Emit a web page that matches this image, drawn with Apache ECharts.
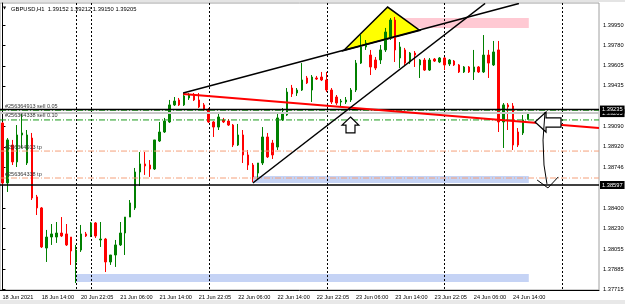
<!DOCTYPE html>
<html lang="en">
<head>
<meta charset="UTF-8">
<script src="https://cdn.jsdelivr.net/npm/echarts@6/dist/echarts.min.js"></script>
<title>GBPUSD,H1</title>
<style>html,body{margin:0;padding:0;background:#fff;}</style>
</head>
<body>
<div id="main" style="width:625px;height:304px;"></div>
<script>
// slots on the time axis (bars + empty chart shift on the right)
var barCount = 122;
var labelEvery = 8;
var tickLabels = ['18 Jun 2021', '18 Jun 14:00', '20 Jun 22:05', '21 Jun 06:00', '21 Jun 14:00', '21 Jun 22:05',
    '22 Jun 06:00', '22 Jun 14:00', '22 Jun 22:05', '23 Jun 06:00', '23 Jun 14:00', '23 Jun 22:05',
    '24 Jun 06:00', '24 Jun 14:00'];

// H1 bars
var openP = [1.39121, 1.38614, 1.38935, 1.38792, 1.39020, 1.38783, 1.38994, 1.38496, 1.38403, 1.38064,
    1.38157, 1.38157, 1.38191, 1.38183, 1.38157, 1.37946, 1.38047, 1.38183, 1.38174, 1.38276,
    1.38132, 1.38140, 1.37946, 1.38005, 1.38090, 1.38191, 1.38326, 1.38403, 1.38707, 1.38775,
    1.38766, 1.38732, 1.38969, 1.39045, 1.39130, 1.39274, 1.39316, 1.39274, 1.39333, 1.39358,
    1.39316, 1.39274, 1.39231, 1.39130, 1.39087, 1.39147, 1.39138, 1.39104, 1.38935, 1.39020,
    1.38851, 1.38766, 1.38698, 1.38783, 1.39003, 1.38952, 1.38918, 1.39147, 1.39189, 1.39417,
    1.39375, 1.39400, 1.39502, 1.39400, 1.39502, 1.39510, 1.39485, 1.39400, 1.39341, 1.39299,
    1.39299, 1.39316, 1.39400, 1.39628, 1.39764, 1.39696, 1.39654, 1.39654, 1.39739, 1.39849,
    1.39992, 1.39671, 1.39739, 1.39637, 1.39713, 1.39612, 1.39654, 1.39569, 1.39662, 1.39637,
    1.39671, 1.39620, 1.39645, 1.39612, 1.39553, 1.39595, 1.39553, 1.39595, 1.39553, 1.39696,
    1.39612, 1.39739, 1.39130, 1.39274, 1.39265, 1.39045, 1.39037, 1.39152];
var highP = [1.39130, 1.38994, 1.38978, 1.39104, 1.39206, 1.39062, 1.39037, 1.38513, 1.38411, 1.38217,
    1.38267, 1.38284, 1.38326, 1.38267, 1.38157, 1.38090, 1.38259, 1.38200, 1.38284, 1.38284,
    1.38284, 1.38149, 1.38005, 1.38132, 1.38284, 1.38326, 1.38470, 1.38741, 1.38876, 1.38876,
    1.38808, 1.38978, 1.39130, 1.39164, 1.39316, 1.39341, 1.39333, 1.39375, 1.39375, 1.39375,
    1.39375, 1.39290, 1.39248, 1.39138, 1.39198, 1.39164, 1.39155, 1.39113, 1.39113, 1.39062,
    1.38893, 1.38783, 1.38783, 1.39087, 1.39037, 1.38978, 1.39206, 1.39248, 1.39417, 1.39443,
    1.39417, 1.39628, 1.39519, 1.39527, 1.39519, 1.39553, 1.39553, 1.39417, 1.39358, 1.39324,
    1.39341, 1.39417, 1.39654, 1.39865, 1.39823, 1.39739, 1.39679, 1.39781, 1.39925, 1.40009,
    1.40018, 1.39806, 1.39756, 1.39722, 1.39730, 1.39662, 1.39671, 1.39671, 1.39671, 1.39679,
    1.39679, 1.39662, 1.39654, 1.39620, 1.39603, 1.39603, 1.39739, 1.39603, 1.39865, 1.39739,
    1.39815, 1.39815, 1.39290, 1.39290, 1.39290, 1.39079, 1.39189, 1.39212];
var lowP = [1.38597, 1.38538, 1.38766, 1.38749, 1.38910, 1.38766, 1.38470, 1.38343, 1.38064, 1.37946,
    1.38090, 1.38107, 1.38157, 1.38081, 1.37921, 1.37768, 1.38031, 1.38157, 1.38157, 1.38149,
    1.38073, 1.37861, 1.37921, 1.37904, 1.38081, 1.38005, 1.38326, 1.38386, 1.38589, 1.38682,
    1.38665, 1.38724, 1.38961, 1.39037, 1.39121, 1.39265, 1.39265, 1.39265, 1.39316, 1.39307,
    1.39248, 1.39223, 1.39121, 1.39003, 1.39062, 1.39121, 1.39096, 1.38918, 1.38927, 1.38783,
    1.38724, 1.38622, 1.38639, 1.38766, 1.38825, 1.38817, 1.38893, 1.39138, 1.39181, 1.39341,
    1.39350, 1.39392, 1.39451, 1.39299, 1.39485, 1.39476, 1.39383, 1.39282, 1.39274, 1.39265,
    1.39282, 1.39299, 1.39383, 1.39620, 1.39739, 1.39527, 1.39569, 1.39620, 1.39722, 1.39823,
    1.39637, 1.39586, 1.39612, 1.39620, 1.39595, 1.39502, 1.39561, 1.39561, 1.39637, 1.39628,
    1.39569, 1.39603, 1.39603, 1.39544, 1.39544, 1.39544, 1.39485, 1.39544, 1.39544, 1.39502,
    1.39603, 1.39045, 1.38910, 1.39062, 1.38893, 1.38918, 1.39020, 1.39150];
var closeP = [1.38614, 1.38978, 1.38792, 1.39020, 1.39037, 1.39020, 1.38487, 1.38403, 1.38073, 1.38157,
    1.38183, 1.38191, 1.38166, 1.38090, 1.38039, 1.38047, 1.38183, 1.38166, 1.38276, 1.38166,
    1.38140, 1.37946, 1.38005, 1.38090, 1.38191, 1.38326, 1.38445, 1.38707, 1.38775, 1.38758,
    1.38732, 1.38978, 1.39045, 1.39138, 1.39274, 1.39307, 1.39274, 1.39350, 1.39358, 1.39316,
    1.39257, 1.39231, 1.39130, 1.39087, 1.39172, 1.39130, 1.39104, 1.38935, 1.39020, 1.38851,
    1.38766, 1.38665, 1.38783, 1.39003, 1.38834, 1.38851, 1.39164, 1.39206, 1.39383, 1.39367,
    1.39400, 1.39485, 1.39460, 1.39510, 1.39493, 1.39485, 1.39400, 1.39299, 1.39290, 1.39307,
    1.39316, 1.39400, 1.39628, 1.39764, 1.39798, 1.39595, 1.39586, 1.39739, 1.39891, 1.39992,
    1.39739, 1.39764, 1.39628, 1.39713, 1.39696, 1.39654, 1.39569, 1.39654, 1.39645, 1.39671,
    1.39612, 1.39654, 1.39612, 1.39553, 1.39595, 1.39553, 1.39595, 1.39553, 1.39696, 1.39628,
    1.39722, 1.39130, 1.39274, 1.39257, 1.38935, 1.38935, 1.39147, 1.39205];

// price scale
var priceMin = 1.37709;
var priceMax = 1.40136;
var priceTicks = [1.37715, 1.37885, 1.38055, 1.38230, 1.38400, 1.38746, 1.38920, 1.39090,
    1.39435, 1.39605, 1.39780, 1.39950];

// day separators (bar index)
var separators = [15, 18, 42, 66, 90, 114];

// chart objects, in [bar index, price]
var zones = [
    {from: 79.7, to: 107.2, top: 1.40009, bottom: 1.39925, color: '#ffc9d3'},
    {from: 51.0, to: 107.2, top: 1.38673, bottom: 1.38614, color: '#c5d3f5'},
    {from: 15.0, to: 107.2, top: 1.37844, bottom: 1.37777, color: '#c5d3f5'}
];
var triangle = [[69.5, 1.39734], [78.45, 1.40102], [85.0, 1.39904]];
var trendLines = [
    {color: '#ff0000', width: 2, pts: [[36.8, 1.39367], [121.5, 1.39079]]},
    {color: '#000', width: 1.5, pts: [[36.8, 1.39375], [105.2, 1.40132]]},
    {color: '#000', width: 1.5, pts: [[51.0, 1.38614], [98.3, 1.40132]]}
];
var upArrow = [[70.89, 1.39172], [72.58, 1.39104], [71.80, 1.39104], [71.80, 1.39037],
    [69.97, 1.39037], [69.97, 1.39104], [69.16, 1.39104]];
var leftArrow = [[108.47, 1.39130], [110.71, 1.39214], [110.71, 1.39164], [113.76, 1.39164],
    [113.76, 1.39087], [110.71, 1.39087], [110.71, 1.39045]];
var drawnDrop = [[110.5, 1.39214], [110.1, 1.38978], [110.3, 1.38766], [110.9, 1.38606]];
var drawnHead = [[108.9, 1.38639], [111.1, 1.38572], [113.2, 1.38665]];

// horizontal levels
var priceLevels = [
    {price: 1.39205, kind: 'bid'},
    {price: 1.39229, kind: 'order', text: '#256364913 sell 0.05'},
    {price: 1.39147, kind: 'order', text: '#256364338 sell 0.10'},
    {price: 1.38884, kind: 'tp', text: '#256364913 tp'},
    {price: 1.38656, kind: 'tp', text: '#256364338 tp'},
    {price: 1.39235, kind: 'level'},
    {price: 1.38597, kind: 'level'}
];
var levelStyles = {
    bid: {stroke: '#c8c8c8', lineWidth: 2},
    level: {stroke: '#000', lineWidth: 1.5},
    order: {stroke: '#1a9a1a', lineWidth: 1, lineDash: [6, 2, 1, 2]},
    tp: {stroke: '#f5a07a', lineWidth: 1, lineDash: [6, 2, 1, 2]}
};

var candles = openP.map(function (o, i) {
    return [o, closeP[i], lowP[i], highP[i]];
});
var cats = [];
for (var i = 0; i < barCount; i++) cats.push(String(i));

function coords(api, list) {
    return list.map(function (p) { return api.coord(p); });
}

function drawBack(params, api) {
    var kids = [];
    zones.forEach(function (z) {
        var a = api.coord([z.from, z.top]);
        var b = api.coord([z.to, z.bottom]);
        kids.push({type: 'rect', shape: {x: a[0], y: a[1], width: b[0] - a[0], height: b[1] - a[1]},
            style: {fill: z.color}});
    });
    separators.forEach(function (s) {
        var a = api.coord([s, priceMax]);
        var b = api.coord([s, priceMin]);
        var x = Math.round(a[0]) + 0.5;
        kids.push({type: 'line', shape: {x1: x, y1: a[1], x2: x, y2: b[1]},
            style: {stroke: '#000', lineWidth: 1, lineDash: [2, 2]}});
    });
    kids.push({type: 'polygon', shape: {points: coords(api, triangle)},
        style: {fill: '#ffff00', stroke: '#000', lineWidth: 1.5}});
    return {type: 'group', children: kids};
}

function drawFront(params, api) {
    var kids = [];
    trendLines.forEach(function (t) {
        kids.push({type: 'polyline', shape: {points: coords(api, t.pts)},
            style: {stroke: t.color, lineWidth: t.width, fill: null}});
    });
    [upArrow, leftArrow].forEach(function (a) {
        kids.push({type: 'polygon', shape: {points: coords(api, a)},
            style: {fill: '#fff', stroke: '#000', lineWidth: 1.2}});
    });
    [drawnDrop, drawnHead].forEach(function (a) {
        kids.push({type: 'polyline', shape: {points: coords(api, a)},
            style: {stroke: '#000', lineWidth: 1, fill: null}});
    });
    return {type: 'group', children: kids};
}

function drawLevels(params, api) {
    var kids = [];
    priceLevels.forEach(function (l) {
        var a = api.coord([-0.5, l.price]);
        var b = api.coord([barCount - 0.5, l.price]);
        var st = levelStyles[l.kind];
        kids.push({type: 'line', shape: {x1: a[0], y1: a[1], x2: b[0], y2: b[1]},
            style: {stroke: st.stroke, lineWidth: st.lineWidth, lineDash: st.lineDash || null}});
        if (l.text) {
            kids.push({type: 'text', x: a[0] + 5, y: a[1] - 1,
                style: {text: l.text, fill: '#333', font: '5.5px "Liberation Sans"', verticalAlign: 'bottom'}});
        } else {
            kids.push({type: 'text', x: b[0] + 1, y: a[1],
                style: {text: l.price.toFixed(5), fill: '#fff', font: '5.7px "Liberation Sans"',
                    verticalAlign: 'middle', backgroundColor: '#000', padding: [1, 2, 1, 2]}});
        }
    });
    return {type: 'group', children: kids};
}

var last = candles.length - 1;
var headText = 'GBPUSD,H1  ' + [openP[last], highP[last], lowP[last], closeP[last]]
    .map(function (v) { return v.toFixed(5); }).join(' ');

var myChart = echarts.init(document.getElementById('main'));
var option = {
    animation: false,
    backgroundColor: '#fff',
    textStyle: {fontFamily: 'Liberation Sans'},
    grid: {left: 0, right: 26, top: 3, bottom: 14, show: true, borderColor: '#a0a0a0', borderWidth: 1,
        outerBoundsMode: 'none'},
    graphic: [
        {type: 'rect', left: 0, top: 0, shape: {width: 625, height: 2}, style: {fill: '#e4e4e4'}, silent: true},
        {type: 'rect', left: 0, top: 300, shape: {width: 625, height: 4}, style: {fill: '#e8e8e8'}, silent: true},
        {type: 'text', left: 3, top: 6, style: {text: '\u25BC', font: '4px "DejaVu Sans"', fill: '#000'}},
        {type: 'text', left: 11, top: 6, style: {text: headText, font: '5.8px "Liberation Sans"', fill: '#000'}}
    ],
    xAxis: [{
        type: 'category',
        data: cats,
        boundaryGap: true,
        axisLine: {lineStyle: {color: '#000'}},
        axisTick: {interval: labelEvery - 1, alignWithLabel: true, length: 3, lineStyle: {color: '#000'}},
        axisLabel: {
            interval: labelEvery - 1, align: 'left', margin: 4, fontSize: 5.6, color: '#000',
            formatter: function (v, idx) { return tickLabels[idx / labelEvery] || ''; }
        },
        splitLine: {show: false}
    }, {
        type: 'value', min: -0.5, max: barCount - 0.5, show: false
    }],
    yAxis: {
        type: 'value',
        position: 'right',
        min: priceMin,
        max: priceMax,
        scale: true,
        axisLine: {show: true, lineStyle: {color: '#000'}},
        axisTick: {show: true, length: 3, customValues: priceTicks, lineStyle: {color: '#000'}},
        axisLabel: {
            customValues: priceTicks, margin: 4, fontSize: 5.7, color: '#000',
            formatter: function (v) { return Number(v).toFixed(5); }
        },
        splitLine: {show: false}
    },
    series: [
        {
            type: 'custom', xAxisIndex: 1, z: 1, silent: true, clip: true,
            data: [[0, priceMin]], renderItem: drawBack
        },
        {
            type: 'candlestick', xAxisIndex: 0, z: 3, data: candles, barWidth: 2,
            itemStyle: {color: '#008000', color0: '#ff0000', borderColor: '#008000', borderColor0: '#ff0000', borderWidth: 1}
        },
        {
            type: 'custom', xAxisIndex: 1, z: 4, silent: true, clip: false,
            data: [[0, priceMin]], renderItem: drawLevels
        },
        {
            type: 'custom', xAxisIndex: 1, z: 5, silent: true, clip: true,
            data: [[0, priceMin]], renderItem: drawFront
        }
    ]
};
myChart.setOption(option);
</script>
</body>
</html>
